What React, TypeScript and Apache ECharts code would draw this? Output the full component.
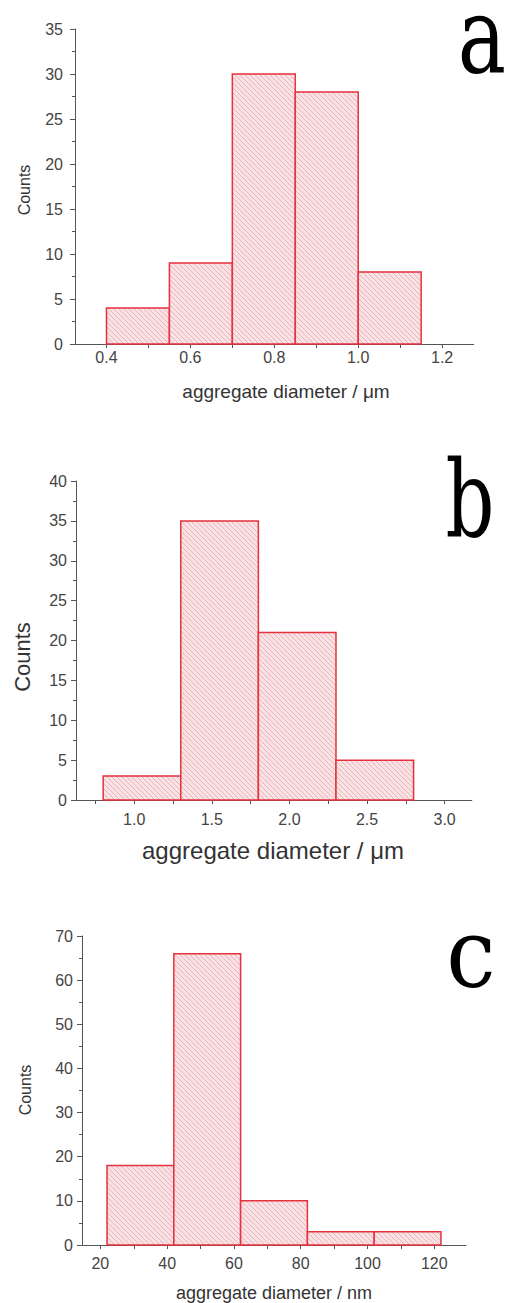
import React, { useEffect, useRef } from "react";
import * as echarts from "echarts";

// Panel a (µm)
const edgesA = [0.4, 0.55, 0.7, 0.85, 1.0, 1.15];
const countsA = [4, 9, 30, 28, 8];
const xMajorA = [0.4, 0.6, 0.8, 1.0, 1.2];
const xTicksA = [0.4, 0.5, 0.6, 0.7, 0.8, 0.9, 1.0, 1.1, 1.2];

// Panel b (µm)
const edgesB = [0.8, 1.3, 1.8, 2.3, 2.8];
const countsB = [3, 35, 21, 5];
const xMajorB = [1.0, 1.5, 2.0, 2.5, 3.0];
const xTicksB = [0.75, 1.0, 1.25, 1.5, 1.75, 2.0, 2.25, 2.5, 2.75, 3.0];

// Panel c (nm)
const edgesC = [22, 42, 62, 82, 102, 122];
const countsC = [18, 66, 10, 3, 3];
const xMajorC = [20, 40, 60, 80, 100, 120];
const xTicksC = [20, 30, 40, 50, 60, 70, 80, 90, 100, 110, 120];

const FONT = "Liberation Sans";
const SERIF = "'DejaVu Serif', serif";
const AXIS_COLOR = "#555";
const LABEL_COLOR = "#444";

function bins(edges: number[], counts: number[]) {
  return counts.map((c, i) => [edges[i], edges[i + 1], c]);
}

function makePattern() {
  const size = 5;
  const cv = document.createElement("canvas");
  cv.width = size;
  cv.height = size;
  const ctx = cv.getContext("2d")!;
  ctx.fillStyle = "#fbe1e3";
  ctx.fillRect(0, 0, size, size);
  ctx.strokeStyle = "#e2b8bc";
  ctx.lineWidth = 1;
  ctx.beginPath();
  ctx.moveTo(-1, -1);
  ctx.lineTo(size + 1, size + 1);
  ctx.moveTo(-1, size - 1);
  ctx.lineTo(1, size + 1);
  ctx.moveTo(size - 1, -1);
  ctx.lineTo(size + 1, 1);
  ctx.stroke();
  return cv;
}

export default function App() {
  const ref = useRef<HTMLDivElement>(null);

  useEffect(() => {
    if (!ref.current) return;
    const chart = echarts.init(ref.current, undefined, { renderer: "svg" });
    const pattern = { image: makePattern(), repeat: "repeat" };

    const grids = [
      { left: 75, top: 29, width: 398.6, height: 315 },
      { left: 76, top: 481, width: 395.8, height: 319 },
      { left: 82, top: 936, width: 384, height: 309 },
    ];

    const xCfg = [
      { min: 0.325, max: 1.275, major: xMajorA, ticks: xTicksA, margin: 5, fmt: (v: number) => v.toFixed(1) },
      { min: 0.625, max: 3.175, major: xMajorB, ticks: xTicksB, margin: 11, fmt: (v: number) => v.toFixed(1) },
      { min: 14.5, max: 129.5, major: xMajorC, ticks: xTicksC, margin: 10, fmt: (v: number) => String(v) },
    ];
    const yCfg = [
      { max: 35, interval: 5, margin: 12 },
      { max: 40, interval: 5, margin: 9 },
      { max: 70, interval: 10, margin: 9 },
    ];

    const xAxis = xCfg.map((c, i) => ({
      type: "value",
      gridIndex: i,
      position: "bottom",
      min: c.min,
      max: c.max,
      axisLine: { show: true, lineStyle: { color: AXIS_COLOR, width: 1 } },
      axisTick: { show: true, customValues: c.ticks, length: 4, lineStyle: { color: AXIS_COLOR } },
      axisLabel: {
        show: true,
        customValues: c.major,
        formatter: c.fmt,
        margin: c.margin,
        fontSize: 16,
        fontFamily: FONT,
        color: LABEL_COLOR,
      },
      splitLine: { show: false },
    }));

    const yAxis = yCfg.map((c, i) => ({
      type: "value",
      gridIndex: i,
      min: 0,
      max: c.max,
      interval: c.interval,
      axisLine: { show: true, lineStyle: { color: AXIS_COLOR, width: 1 } },
      axisTick: { show: true, length: 5, lineStyle: { color: AXIS_COLOR } },
      minorTick: { show: true, splitNumber: 2, length: 3, lineStyle: { color: AXIS_COLOR } },
      axisLabel: { margin: c.margin, fontSize: 16, fontFamily: FONT, color: LABEL_COLOR },
      splitLine: { show: false },
    }));

    const data = [bins(edgesA, countsA), bins(edgesB, countsB), bins(edgesC, countsC)];

    const series = data.map((d, i) => ({
      type: "custom",
      xAxisIndex: i,
      yAxisIndex: i,
      data: d,
      encode: { x: [0, 1], y: 2 },
      clip: false,
      renderItem: (params: any, api: any) => {
        const p0 = api.coord([api.value(0), api.value(2)]);
        const p1 = api.coord([api.value(1), 0]);
        return {
          type: "rect",
          shape: { x: p0[0], y: p0[1], width: p1[0] - p0[0], height: p1[1] - p0[1] },
          style: { fill: pattern, stroke: "#e5323e", lineWidth: 1.5 },
        };
      },
    }));

    const txt = (x: number, y: number, text: string, size: number, rot = 0) => ({
      type: "text",
      x,
      y,
      rotation: rot,
      style: {
        text,
        fontSize: size,
        fontFamily: FONT,
        fill: "#333",
        align: "center",
        verticalAlign: "middle",
      },
    });
    const letter = (x: number, y: number, text: string, sx: number, sy: number) => ({
      type: "text",
      x,
      y,
      scaleX: sx,
      scaleY: sy,
      style: {
        text,
        font: "90px " + SERIF,
        lineHeight: 50,
        fill: "#000",
        align: "center",
        verticalAlign: "middle",
      },
    });

    chart.setOption({
      animation: false,
      backgroundColor: "#fff",
      grid: grids,
      xAxis,
      yAxis,
      series,
      graphic: [
        txt(286, 391, "aggregate diameter / \u03bcm", 19),
        txt(24, 190, "Counts", 16, Math.PI / 2),
        txt(273, 850, "aggregate diameter / \u03bcm", 24),
        txt(22, 657, "Counts", 22, Math.PI / 2),
        txt(274, 1293, "aggregate diameter / nm", 18),
        txt(25, 1090, "Counts", 16, Math.PI / 2),
        letter(482, 35, "a", 0.9, 1.18),
        letter(470, 499, "b", 0.85, 1.18),
        letter(471, 954, "c", 0.98, 1.05),
      ],
    });

    return () => chart.dispose();
  }, []);

  return (
    <div
      ref={ref}
      style={{ position: "absolute", left: 0, top: 0, width: 509, height: 1303 }}
    />
  );
}
